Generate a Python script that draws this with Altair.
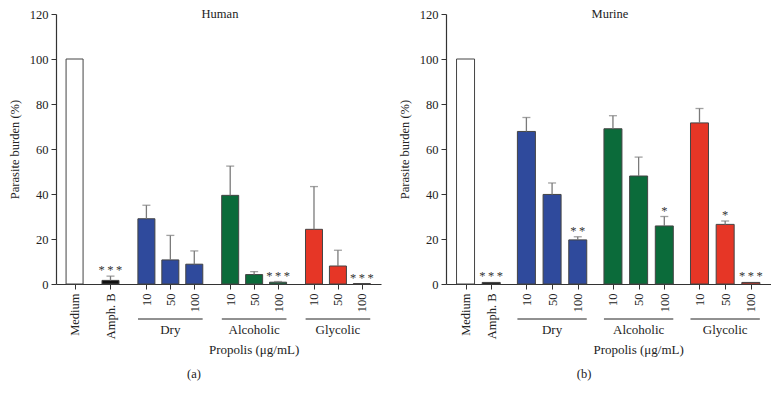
import altair as alt
import pandas as pd

FONT = "Liberation Serif"

# ---- data ----
labels = ["Medium", "Amph. B", "10", "50", "100", "10", "50", "100", "10", "50", "100"]
groups = ["Medium", "Amph. B", "Dry", "Dry", "Dry", "Alcoholic", "Alcoholic", "Alcoholic",
          "Glycolic", "Glycolic", "Glycolic"]
group_domain = ["Medium", "Amph. B", "Dry", "Alcoholic", "Glycolic"]
group_colors = ["#ffffff", "#111111", "#2f4a9c", "#0b6b3a", "#e63626"]

human_pos = [0, 1.5, 3, 4, 5, 6.5, 7.5, 8.5, 10, 11, 12]
human_values = [100, 1.6, 29.0, 10.7, 8.8, 39.4, 4.2, 0.8, 24.3, 8.0, 0.2]
human_err = [None, 3.5, 35.0, 21.6, 14.7, 52.4, 5.5, 1.1, 43.3, 15.0, None]
human_stars = ["", "***", "", "", "", "", "", "***", "", "", "***"]

murine_pos = [0, 1, 2.37, 3.37, 4.37, 5.74, 6.74, 7.74, 9.11, 10.11, 11.11]
murine_values = [100, 0.7, 67.8, 39.8, 19.6, 69.0, 48.0, 25.8, 71.6, 26.5, 0.7]
murine_err = [None, None, 74.0, 44.9, 21.0, 74.8, 56.4, 30.0, 78.0, 28.0, None]
murine_stars = ["", "***", "", "", "**", "", "", "*", "", "*", "***"]

y_ticks = [0, 20, 40, 60, 80, 100, 120]
x_group_names = ["Dry", "Alcoholic", "Glycolic"]
x_title = "Propolis (μg/mL)"
y_title = "Parasite burden (%)"

PW, PH = 325, 270


def panel(pos, values, errs, stars, head, letter, bar_size, xdomain):
    df = pd.DataFrame({"pos": pos, "label": labels, "group": groups, "value": values,
                       "err": errs, "star": ["\u2009".join(s) for s in stars]})
    df["top"] = [max(v, e) if e is not None and e == e else v for v, e in zip(values, errs)]

    expr = ""
    for p, l in zip(pos, labels):
        expr += f"round(datum.value*100) == {round(p*100)} ? '{l}' : "
    expr += "''"

    xs = alt.Scale(domain=xdomain, nice=False, zero=False)
    xaxis = alt.Axis(values=pos, labelExpr=expr, title=None, labelAngle=270, labelAlign="right",
                     labelBaseline="middle", tickSize=5, labelPadding=4, labelFontSize=12.5,
                     grid=False)
    ys = alt.Scale(domain=[0, 120], nice=False)
    yaxis = alt.Axis(values=y_ticks, title=y_title, tickSize=5, labelPadding=3, titlePadding=8,
                     labelFontSize=12.5, titleFontSize=12.5, grid=False)

    def X(f):
        return alt.X(f, scale=xs, axis=xaxis)

    def Y(f):
        return alt.Y(f, scale=ys, axis=yaxis)

    base = alt.Chart(df)
    bars = base.mark_bar(size=bar_size, stroke="#444444", strokeWidth=1).encode(
        x=X("pos:Q"), y=Y("value:Q"),
        color=alt.Color("group:N", scale=alt.Scale(domain=group_domain, range=group_colors),
                        legend=None))
    edf = df[df["err"].notna()]
    rules = alt.Chart(edf).mark_rule(color="#7a7a7a", strokeWidth=1.3).encode(
        x=X("pos:Q"), y=Y("value:Q"), y2="err:Q")
    caps = alt.Chart(edf).mark_tick(orient="horizontal", color="#7a7a7a", size=8,
                                    thickness=1.3).encode(x=X("pos:Q"), y=Y("err:Q"))
    sdf = df[df["star"] != ""]
    star_txt = alt.Chart(sdf).mark_text(baseline="alphabetic", fontSize=12.5, font=FONT,
                                        fill="#333333", color="#333333", dy=-2).encode(
        x=X("pos:Q"), y=Y("top:Q"), text="star:N")

    gdf = pd.DataFrame({
        "name": x_group_names,
        "lo": [min(p for p, g in zip(pos, groups) if g == n) - 0.35 for n in x_group_names],
        "hi": [max(p for p, g in zip(pos, groups) if g == n) + 0.35 for n in x_group_names],
        "mid": [sum(p for p, g in zip(pos, groups) if g == n) / 3 for n in x_group_names],
    })
    glines = alt.Chart(gdf).mark_rule(color="#222", strokeWidth=1).encode(
        x=X("lo:Q"), x2="hi:Q", y=alt.value(305))
    gtext = alt.Chart(gdf).mark_text(fontSize=13, font=FONT, color="#222",
                                     baseline="middle").encode(
        x=X("mid:Q"), y=alt.value(316), text="name:N")
    ptext = alt.Chart(gdf[gdf["name"] == "Alcoholic"]).mark_text(
        fontSize=13, font=FONT, color="#222", baseline="middle").encode(
        x=X("mid:Q"), y=alt.value(336), text=alt.value(x_title))
    htext = alt.Chart(pd.DataFrame({"t": [head]})).mark_text(
        fontSize=12.5, font=FONT, color="#222", baseline="middle").encode(
        x=alt.value(164), y=alt.value(0), text="t:N")
    ltext = alt.Chart(pd.DataFrame({"t": [letter]})).mark_text(
        fontSize=12.5, font=FONT, color="#222", baseline="middle").encode(
        x=alt.value(138), y=alt.value(360), text="t:N")

    return alt.layer(bars, rules, caps, star_txt, glines, gtext, ptext, htext, ltext).properties(
        width=PW, height=PH)


left = panel(human_pos, human_values, human_err, human_stars, "Human", "(a)", 17, [-0.567, 12.59])
right = panel(murine_pos, murine_values, murine_err, murine_stars, "Murine", "(b)", 18, [-0.566, 11.7])

chart = alt.hconcat(left, right, spacing=65, bounds="flush").properties(
    padding={"left": 0, "top": 0, "right": 0, "bottom": 0}
).configure_view(stroke=None).configure_axis(
    domainColor="#333", tickColor="#333", labelColor="#222", titleColor="#222",
    labelFont=FONT, titleFont=FONT, titleFontWeight="normal", domainWidth=1.2
)

chart.save("out.html", embed_options={"renderer": "svg", "actions": False})
